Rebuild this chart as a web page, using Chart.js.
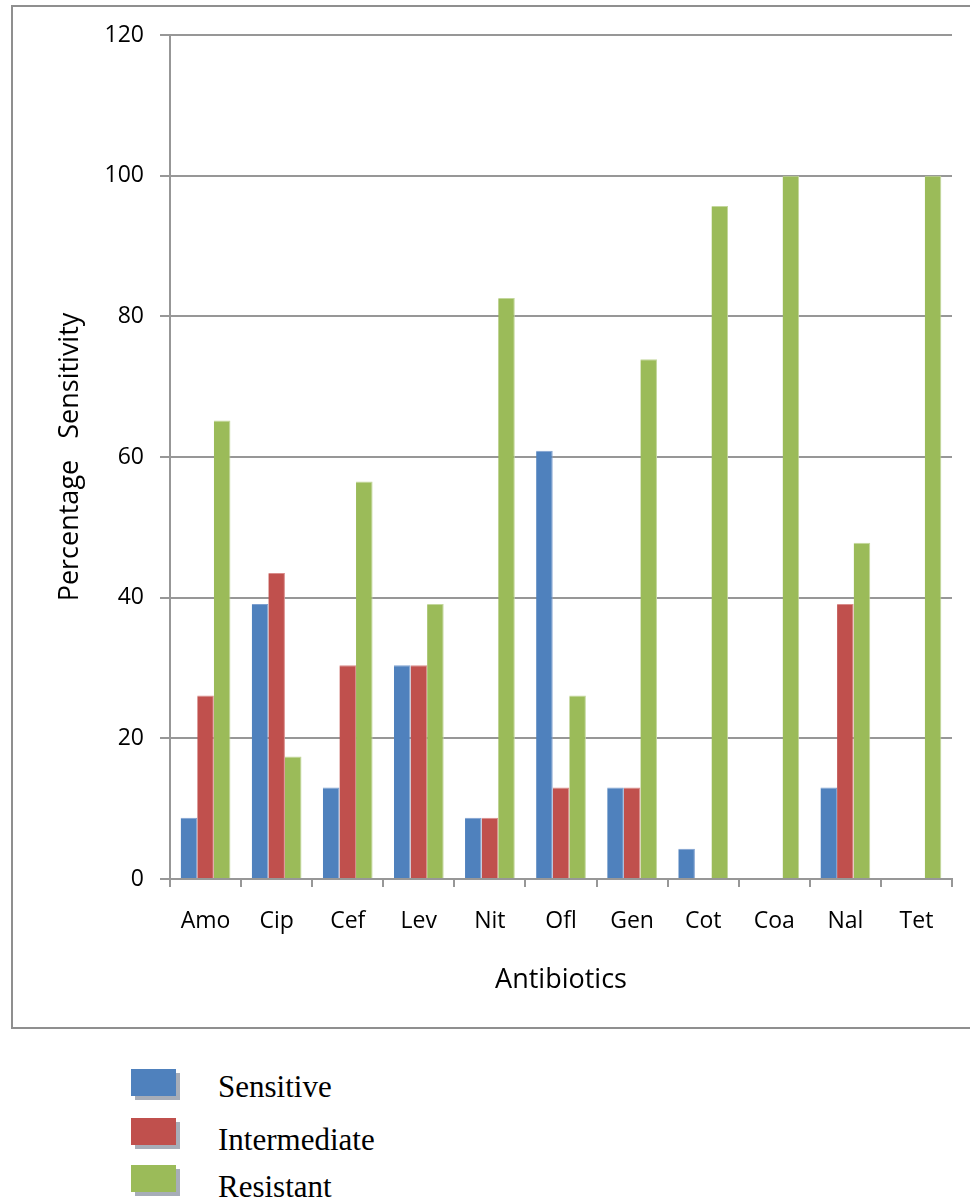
<!DOCTYPE html>
<html>
<head>
<meta charset="utf-8">
<script src="https://cdn.jsdelivr.net/npm/chart.js@4.4.0/dist/chart.umd.min.js"></script>
<style>
  html, body { margin: 0; padding: 0; background: #fff; width: 970px; height: 1201px; overflow: hidden; }
  #frame { position: absolute; left: 11px; top: 5px; width: 1000px; height: 1024px; border: 2px solid #8f8f8f; box-sizing: border-box; }
  #wrap { position: absolute; left: 0; top: 0; width: 970px; height: 1040px; }
  .key { position: absolute; left: 131px; width: 45px; height: 27px; box-shadow: 4px 4px 0 rgba(95, 105, 125, 0.55); }
  .lbl { position: absolute; left: 218px; font-family: "Liberation Serif", "Times New Roman", serif; font-size: 31px; line-height: 31px; color: #000; white-space: nowrap; }
</style>
</head>
<body>
<div id="frame"></div>
<div id="wrap"><canvas id="chart" width="970" height="1040"></canvas></div>
<div id="legend"></div>
<script>
// Antibiotic susceptibility (%) per drug
const categories = ['Amo', 'Cip', 'Cef', 'Lev', 'Nit', 'Ofl', 'Gen', 'Cot', 'Coa', 'Nal', 'Tet'];
const sensitive    = [8.7, 39.1, 13.0, 30.4, 8.7, 60.9, 13.0, 4.3, 0, 13.0, 0];
const intermediate = [26.1, 43.5, 30.4, 30.4, 8.7, 13.0, 13.0, 0, 0, 39.1, 0];
const resistant    = [65.2, 17.4, 56.5, 39.1, 82.6, 26.1, 73.9, 95.7, 100, 47.8, 100];
const seriesNames  = ['Sensitive', 'Intermediate', 'Resistant'];
const seriesColors = ['#4F81BD', '#C0504D', '#9BBB59'];
const edgeColors   = ['#7d9fcf', '#d98c8a', '#c3d79c'];
const yMin = 0, yMax = 120, yStep = 20;

const axisGray = '#979797';
const sans = '"Open Sans", "Liberation Sans", sans-serif';

const seriesValues = [sensitive, intermediate, resistant];
const datasets = seriesNames.map((name, i) => ({
  label: name,
  data: seriesValues[i],
  backgroundColor: seriesColors[i],
  borderColor: edgeColors[i],
  borderWidth: { top: 1, right: 1, left: 0, bottom: 0 },
  borderSkipped: 'start',
  barPercentage: 1.0,
  categoryPercentage: 0.7
}));

new Chart(document.getElementById('chart'), {
  type: 'bar',
  data: { labels: categories, datasets },
  options: {
    responsive: false,
    animation: false,
    events: [],
    layout: { padding: { left: 54, right: 18, top: 35, bottom: 43 } },
    plugins: { legend: { display: false }, tooltip: { enabled: false } },
    scales: {
      x: {
        afterFit: (s) => { s.height = 118; },
        grid: { display: true, drawOnChartArea: false, drawTicks: true, tickLength: 8, color: axisGray, lineWidth: 2, offset: true },
        border: { display: true, color: axisGray, width: 2 },
        ticks: { color: '#000', font: { family: sans, size: 23 }, padding: 21, maxRotation: 0, autoSkip: false },
        title: { display: true, text: 'Antibiotics', color: '#000', font: { family: sans, size: 27 }, padding: 0 }
      },
      y: {
        min: yMin, max: yMax,
        afterFit: (s) => { s.width = 116; },
        grid: { color: axisGray, lineWidth: 2, drawTicks: true, tickLength: 10 },
        border: { display: true, color: axisGray, width: 2 },
        ticks: { stepSize: yStep, color: '#000', font: { family: sans, size: 23 }, padding: 16 },
        title: { display: true, text: 'Percentage   Sensitivity', color: '#000', font: { family: sans, size: 27 }, padding: 0 }
      }
    }
  }
});

// Legend below the chart frame
const legend = document.getElementById('legend');
const keyTops = [1069, 1118, 1165];
const textTops = [1071, 1124, 1171];
seriesNames.forEach((name, i) => {
  const k = document.createElement('div');
  k.className = 'key';
  k.style.top = keyTops[i] + 'px';
  k.style.background = seriesColors[i];
  legend.appendChild(k);
  const t = document.createElement('div');
  t.className = 'lbl';
  t.style.top = textTops[i] + 'px';
  t.textContent = name;
  legend.appendChild(t);
});
</script>
</body>
</html>
